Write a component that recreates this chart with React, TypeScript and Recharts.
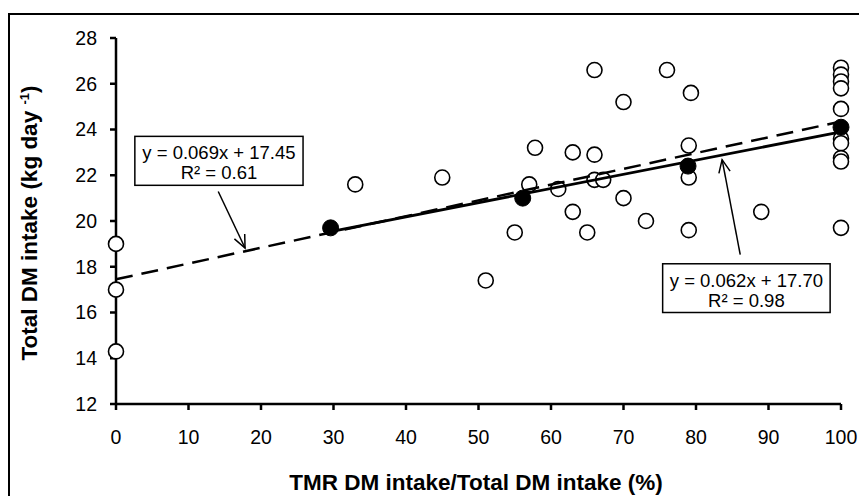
import React from 'react';
import { ScatterChart, Scatter, XAxis, YAxis, ReferenceArea, ReferenceLine } from 'recharts';

const FONT = "'Liberation Sans', Arial, Helvetica, sans-serif";

// Individual observations (open circles)
const tmrShare = [0, 0, 0, 33, 45, 51, 55, 57, 57.8, 61, 63, 63, 65, 66, 66, 66, 67.2, 70, 70, 73.1, 76, 79, 79, 79, 79.3, 89, 100, 100, 100, 100, 100, 100, 100, 100, 100, 100];
const totalDmi = [19.0, 17.0, 14.3, 21.6, 21.9, 17.4, 19.5, 21.6, 23.2, 21.4, 23.0, 20.4, 19.5, 26.6, 22.9, 21.8, 21.8, 25.2, 21.0, 20.0, 26.6, 23.3, 21.9, 19.6, 25.6, 20.4, 26.7, 26.4, 26.1, 25.8, 24.9, 23.6, 23.4, 22.75, 22.6, 19.7];

// Group means (filled circles)
const meanTmr = [29.6, 56.1, 78.9, 100];
const meanDmi = [19.7, 21.0, 22.4, 24.1];

// Axis ticks
const xTicks = [0, 10, 20, 30, 40, 50, 60, 70, 80, 90, 100];
const yTicks = [12, 14, 16, 18, 20, 22, 24, 26, 28];

// Regression fits
const fitAllSlope = 0.069;
const fitAllIntercept = 17.45;
const fitAllRange = [0, 100];
const fitAllText = ['y = 0.069x + 17.45', 'R\u00B2 = 0.61'];

const fitMeansSlope = 0.062;
const fitMeansIntercept = 17.7;
const fitMeansRange = [29.6, 100];
const fitMeansText = ['y = 0.062x + 17.70', 'R\u00B2 = 0.98'];

const openPoints = tmrShare.map((x, i) => ({ x, y: totalDmi[i] }));
const meanPoints = meanTmr.map((x, i) => ({ x, y: meanDmi[i] }));
const fitAllLine = fitAllRange.map((x) => ({ x, y: fitAllSlope * x + fitAllIntercept }));
const fitMeansLine = fitMeansRange.map((x) => ({ x, y: fitMeansSlope * x + fitMeansIntercept }));

const OpenDot = (p: any) => (
  <circle cx={p.cx} cy={p.cy} r={7.5} fill="#fff" stroke="#000" strokeWidth={1.6} />
);
const FilledDot = (p: any) => <circle cx={p.cx} cy={p.cy} r={8} fill="#000" stroke="#000" strokeWidth={1} />;
const NoDot = () => <g />;

const makeBox = (lines: string[]) => (p: any) => {
  const { x, y, width, height } = p;
  const cx = x + width / 2;
  return (
    <g>
      <rect x={x} y={y} width={width} height={height} fill="#fff" stroke="#000" strokeWidth={1.5} />
      <text x={cx} y={y + 23} textAnchor="middle" fontSize={18.5} fontFamily={FONT} fill="#000">
        {lines[0]}
      </text>
      <text x={cx} y={y + 43} textAnchor="middle" fontSize={18.5} fontFamily={FONT} fill="#000">
        {lines[1]}
      </text>
    </g>
  );
};

const Arrow = (p: any) => {
  const { x1, y1, x2, y2 } = p;
  const ang = Math.atan2(y2 - y1, x2 - x1);
  const L = 14;
  const a = (24 * Math.PI) / 180;
  const ax = x2 - L * Math.cos(ang - a);
  const ay = y2 - L * Math.sin(ang - a);
  const bx = x2 - L * Math.cos(ang + a);
  const by = y2 - L * Math.sin(ang + a);
  return (
    <g>
      <line x1={x1} y1={y1} x2={x2} y2={y2} stroke="#000" strokeWidth={1.5} />
      <path d={`M${ax},${ay} L${x2},${y2} L${bx},${by}`} fill="none" stroke="#000" strokeWidth={1.5} />
    </g>
  );
};

const XTitle = () => (
  <text x={468} y={482} textAnchor="middle" fontSize={22.5} fontWeight="bold" fontFamily={FONT} fill="#000">
    TMR DM intake/Total DM intake (%)
  </text>
);

const YTitle = () => (
  <text
    x={29}
    y={215}
    transform="rotate(-90, 29, 215)"
    textAnchor="middle"
    fontSize={22.5}
    fontWeight="bold"
    fontFamily={FONT}
    fill="#000"
  >
    <tspan>Total DM intake (kg day </tspan>
    <tspan dy={-8} fontSize={13}>-1</tspan>
    <tspan dy={8}>)</tspan>
  </text>
);

export default function App() {
  const axisStyle = { stroke: '#000', strokeWidth: 2.5 };
  const tickStyle = { fill: '#000', fontSize: 19.5, fontFamily: FONT };
  return (
    <div style={{ position: 'relative', width: 859, height: 488, background: '#fff' }}>
      <ScatterChart width={859} height={488} margin={{ top: 30, right: 26, bottom: 0, left: 0 }}>
        <XAxis
          type="number"
          dataKey="x"
          domain={[0, 100]}
          ticks={xTicks}
          interval={0}
          height={92}
          tickSize={6}
          tickMargin={20}
          axisLine={axisStyle}
          tickLine={axisStyle}
          tick={tickStyle}
          label={XTitle}
        />
        <YAxis
          type="number"
          dataKey="y"
          domain={[12, 28]}
          ticks={yTicks}
          interval={0}
          width={108}
          tickSize={6}
          tickMargin={13}
          axisLine={axisStyle}
          tickLine={axisStyle}
          tick={tickStyle}
          label={YTitle}
        />
        <ReferenceArea x1={2.6} x2={25.8} y1={21.56} y2={23.7} shape={makeBox(fitAllText)} ifOverflow="visible" />
        <ReferenceArea x1={75.4} x2={98.5} y1={16.0} y2={18.13} shape={makeBox(fitMeansText)} ifOverflow="visible" />
        <ReferenceLine segment={[{ x: 14.1, y: 21.29 }, { x: 17.8, y: 18.82 }]} shape={Arrow} ifOverflow="visible" />
        <ReferenceLine segment={[{ x: 86.1, y: 18.53 }, { x: 83.6, y: 22.68 }]} shape={Arrow} ifOverflow="visible" />
        <Scatter data={openPoints} shape={OpenDot} isAnimationActive={false} legendType="none" />
        <Scatter
          data={fitAllLine}
          shape={NoDot}
          line={{ stroke: '#000', strokeWidth: 2.5, strokeDasharray: '17 9' }}
          isAnimationActive={false}
          legendType="none"
        />
        <Scatter
          data={fitMeansLine}
          shape={NoDot}
          line={{ stroke: '#000', strokeWidth: 2.8 }}
          isAnimationActive={false}
          legendType="none"
        />
        <Scatter data={meanPoints} shape={FilledDot} isAnimationActive={false} legendType="none" />
      </ScatterChart>
      <div
        style={{
          position: 'absolute',
          left: 0,
          top: 5,
          width: 859,
          height: 483,
          borderTop: '2px solid #000',
          borderLeft: '2px solid #000',
          boxSizing: 'border-box',
          pointerEvents: 'none',
        }}
      />
    </div>
  );
}
